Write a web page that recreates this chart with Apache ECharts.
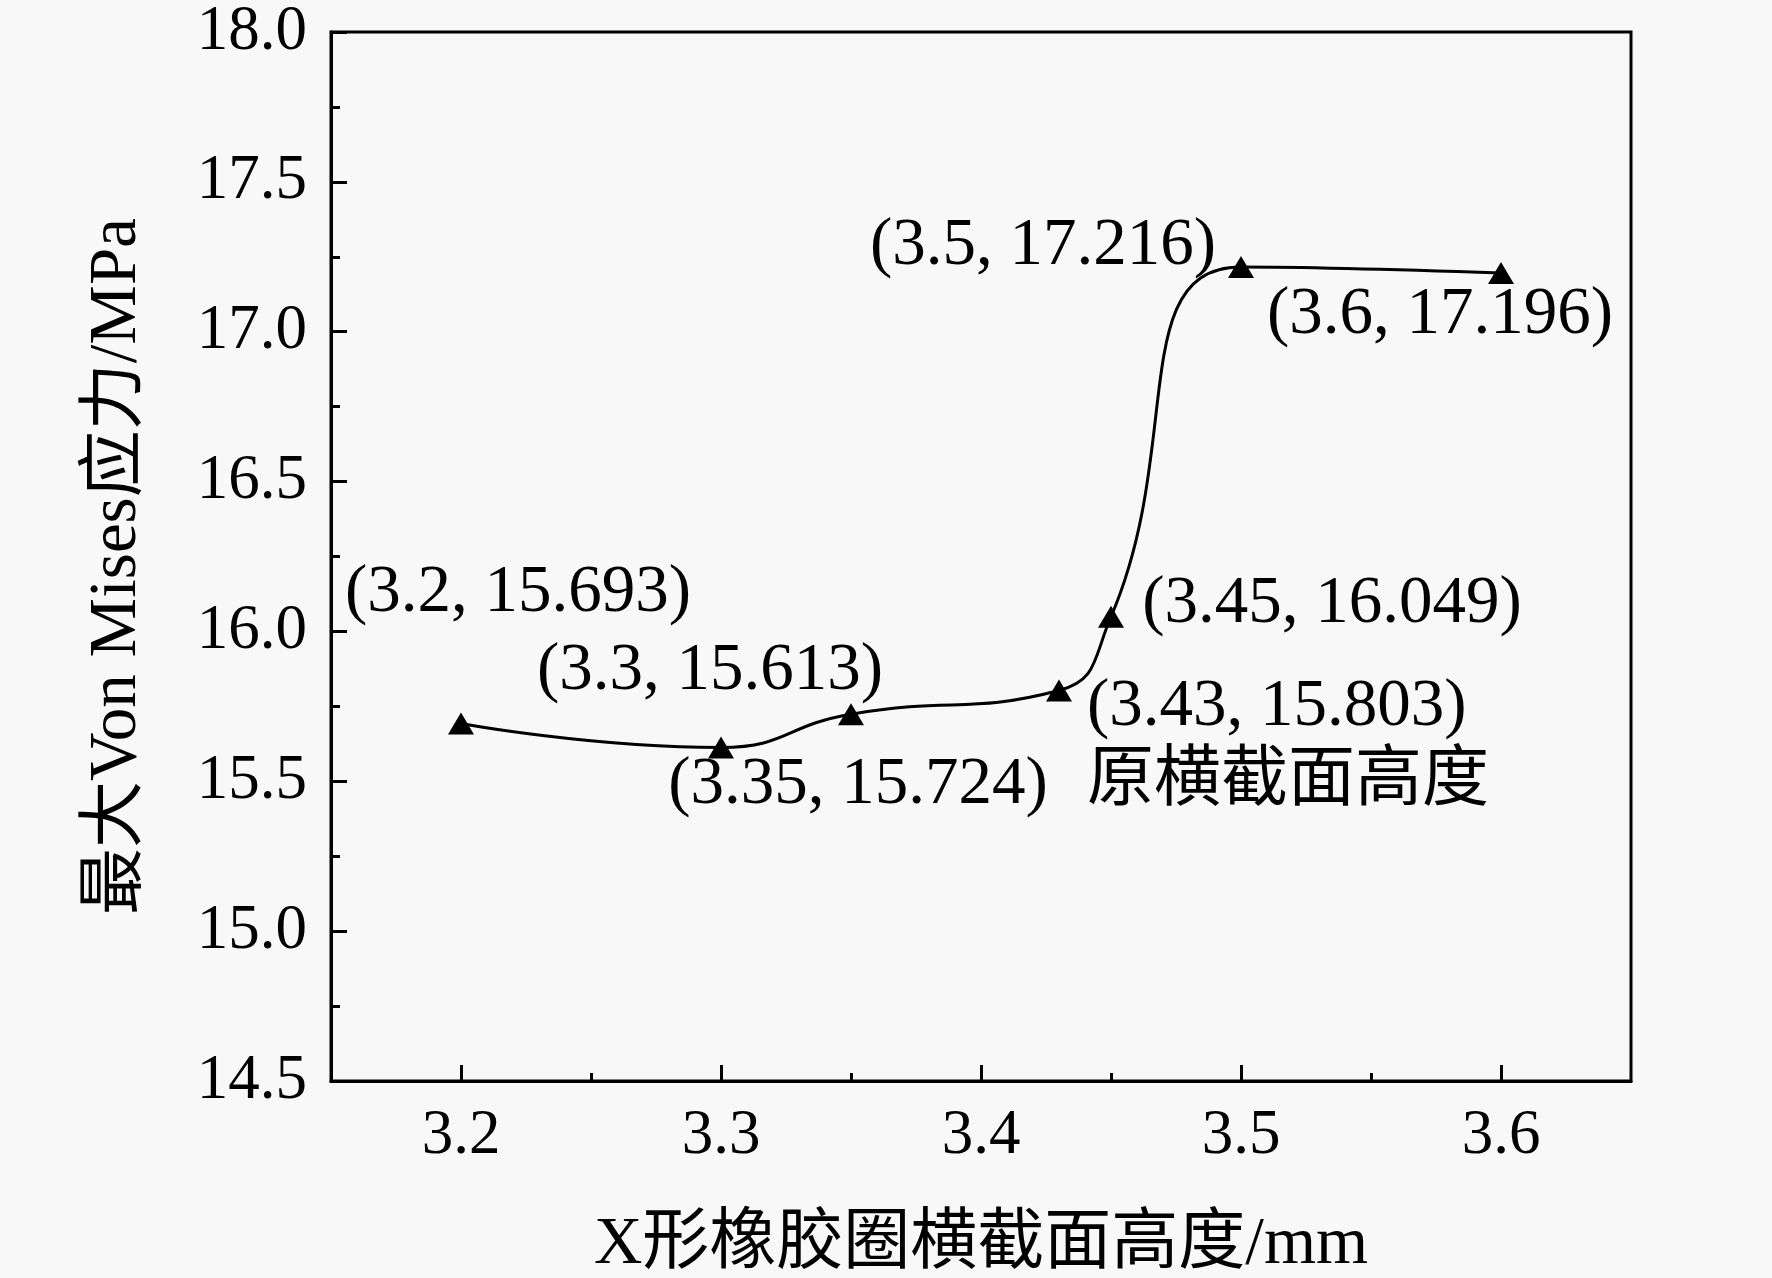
<!DOCTYPE html>
<html>
<head>
<meta charset="utf-8">
<script src="https://cdn.jsdelivr.net/npm/echarts@6/dist/echarts.min.js"></script>
<style>
html,body{margin:0;padding:0;background:#f8f8f8;}
#chart{width:1772px;height:1278px;}
</style>
</head>
<body>
<div id="chart"></div>
<script>
// Data
const heights = [3.2, 3.3, 3.35, 3.43, 3.45, 3.5, 3.6];
const stress = [15.693, 15.613, 15.724, 15.803, 16.049, 17.216, 17.196];
// annotation texts as shown next to each point in the figure
const pointLabels = [
  '(3.2, 15.693)',
  '(3.35, 15.724)',
  '(3.3, 15.613)',
  '(3.43, 15.803)\n原横截面高度',
  '(3.45, 16.049)',
  '(3.5, 17.216)',
  '(3.6, 17.196)'
];
const xMajorTicks = [3.2, 3.3, 3.4, 3.5, 3.6];
const xMinorTicks = [3.25, 3.35, 3.45, 3.55];
const xTickLabels = ['3.2', '3.3', '3.4', '3.5', '3.6'];
const xAxisTitle = 'X形橡胶圈横截面高度/mm';
const yAxisTitle = '最大Von Mises应力/MPa';

// label placement (style, not data)
const labelOffsets = [
  [57, -130], [137, 38], [-141, -43], [28, 54], [221, -12], [-198, -21], [-61, 42]
];
const labelAligns = ['center','center','center','left','center','center','center'];

const FONT = '"Liberation Serif", "Times New Roman", "Noto Sans CJK SC", serif';

const chart = echarts.init(document.getElementById('chart'), null, {renderer: 'canvas'});

const seriesData = heights.map((x, i) => ({
  value: [x, stress[i]],
  label: {
    show: true,
    position: 'inside',
    formatter: pointLabels[i],
    align: labelAligns[i],
    verticalAlign: 'middle',
    offset: labelOffsets[i],
    color: '#000',
    fontSize: 67,
    fontFamily: FONT,
    lineHeight: 75
  }
}));

const option = {
  backgroundColor: '#f8f8f8',
  animation: false,
  grid: {
    left: 331, right: 141, top: 32, bottom: 197,
    outerBoundsMode: 'none',
    containLabel: false,
    show: true, borderColor: '#000', borderWidth: 3, backgroundColor: 'transparent'
  },
  xAxis: [{
    type: 'value',
    min: 3.15, max: 3.65,
    position: 'bottom',
    name: xAxisTitle,
    nameLocation: 'middle',
    nameGap: 131,
    nameTextStyle: {fontSize: 67, fontFamily: FONT, color: '#000', verticalAlign: 'top'},
    axisLine: {show: true, onZero: false, lineStyle: {color: '#000', width: 3}},
    axisTick: {show: true, inside: true, length: 16, customValues: xMajorTicks, lineStyle: {color: '#000', width: 3}},
    axisLabel: {
      show: true, margin: 24, fontSize: 63, fontFamily: FONT, color: '#000',
      customValues: xMajorTicks,
      formatter: function (v) {
        const idx = xMajorTicks.findIndex(t => Math.abs(t - v) < 1e-6);
        return idx >= 0 ? xTickLabels[idx] : '';
      }
    },
    splitLine: {show: false}
  }, {
    type: 'value',
    min: 3.15, max: 3.65,
    position: 'bottom',
    gridIndex: 0,
    axisLine: {show: false, onZero: false},
    axisTick: {show: true, inside: true, length: 8, customValues: xMinorTicks, lineStyle: {color: '#000', width: 3}},
    axisLabel: {show: false},
    splitLine: {show: false}
  }],
  yAxis: {
    type: 'value',
    min: 14.5, max: 18.0, interval: 0.5,
    name: yAxisTitle,
    nameLocation: 'middle',
    nameGap: 180,
    nameRotate: 90,
    nameTextStyle: {fontSize: 67, fontFamily: FONT, color: '#000', padding: [0, 20, 0, 0]},
    axisLine: {show: true, onZero: false, lineStyle: {color: '#000', width: 3}},
    axisTick: {show: true, inside: true, length: 16, lineStyle: {color: '#000', width: 3}},
    minorTick: {show: true, splitNumber: 2, length: 9, lineStyle: {color: '#000', width: 3}},
    axisLabel: {
      margin: 24, fontSize: 63, fontFamily: FONT, color: '#000',
      formatter: v => v.toFixed(1)
    },
    splitLine: {show: false}
  },
  series: [{
    type: 'line',
    xAxisIndex: 0,
    data: seriesData,
    smooth: 0.5,
    symbol: 'triangle',
    symbolSize: [26, 22],
    itemStyle: {color: '#000'},
    lineStyle: {color: '#000', width: 3},
    z: 3
  }]
};

chart.setOption(option);
</script>
</body>
</html>
